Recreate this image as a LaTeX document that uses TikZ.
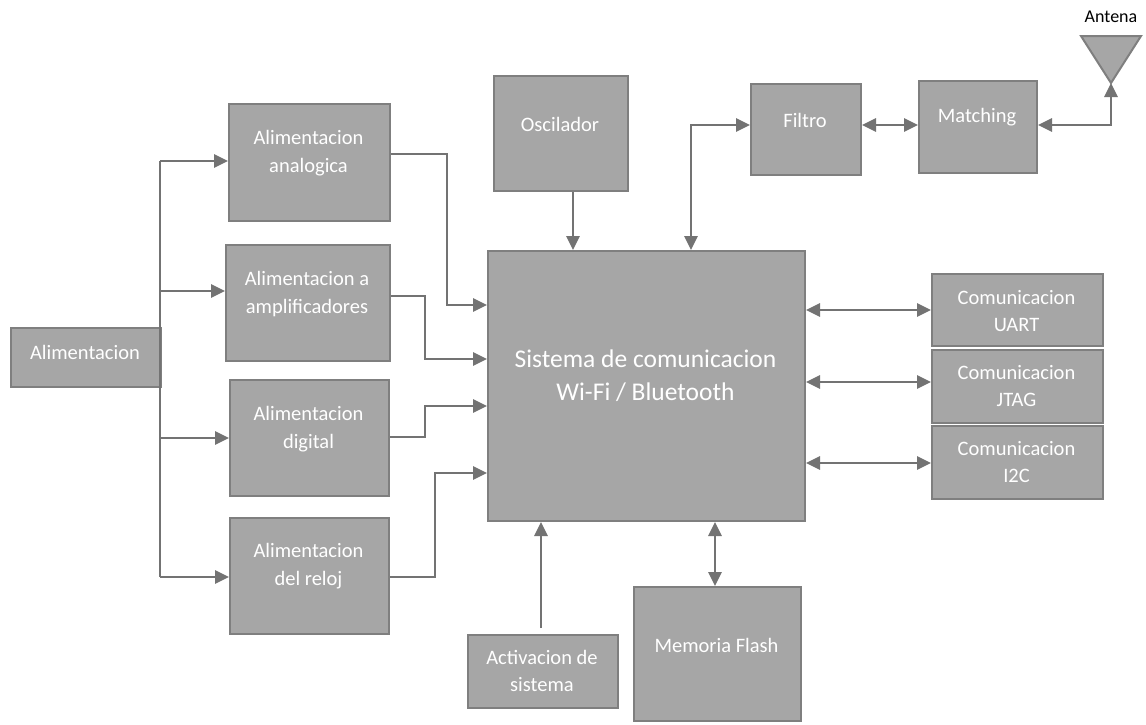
\documentclass[tikz,border=0pt]{standalone}
\usepackage{fontspec}
\setmainfont{Carlito}
\usetikzlibrary{arrows.meta}
\definecolor{boxfill}{HTML}{A6A6A6}
\definecolor{boxline}{HTML}{7F7F7F}
\definecolor{wire}{HTML}{737373}
\begin{document}
\begin{tikzpicture}[x=1pt,y=-1pt,
  blk/.style={draw=boxline,line width=2pt,fill=boxfill,inner sep=0pt,anchor=north west},
  lbl/.style={text=white,align=center,font=\fontsize{20.5}{27.5}\selectfont,inner sep=0pt},
  bigl/.style={text=white,align=center,font=\fontsize{25.5}{33}\selectfont,inner sep=0pt},
  conn/.style={draw=wire,line width=2.8pt,-{Triangle[length=14pt,width=13pt]}},
  bconn/.style={draw=wire,line width=2.8pt,{Triangle[length=14pt,width=13pt]}-{Triangle[length=14pt,width=13pt]}},
  wire/.style={draw=wire,line width=2.8pt}]
\useasboundingbox (0,0) rectangle (1146,724);

% blocks
\node[blk,minimum width=150pt,minimum height=59pt] (al) at (10,327) {};
\node[blk,minimum width=161pt,minimum height=117pt] (an) at (228,103) {};
\node[blk,minimum width=164pt,minimum height=116pt] (am) at (225,244) {};
\node[blk,minimum width=159pt,minimum height=116pt] (di) at (229,379) {};
\node[blk,minimum width=159pt,minimum height=116pt] (re) at (229,517) {};
\node[blk,minimum width=134pt,minimum height=115pt] (os) at (493,75) {};
\node[blk,minimum width=317pt,minimum height=270pt] (sys) at (487,250) {};
\node[blk,minimum width=110pt,minimum height=91pt] (fi) at (750,83) {};
\node[blk,minimum width=118pt,minimum height=92pt] (ma) at (918,80) {};
\node[blk,minimum width=171pt,minimum height=72pt] (ua) at (931,273) {};
\node[blk,minimum width=171pt,minimum height=73pt] (jt) at (931,349) {};
\node[blk,minimum width=171pt,minimum height=73pt] (ic) at (931,425) {};
\node[blk,minimum width=150pt,minimum height=73pt] (ac) at (467,634) {};
\node[blk,minimum width=167pt,minimum height=134pt] (fl) at (633,586) {};

% antenna
\coordinate (ant) at (1111,83);
\filldraw[draw=boxline,fill=boxfill,line width=2pt] (1081,36) -- (1141,36) -- (ant) -- cycle;
\node[font=\fontsize{18}{20}\selectfont,inner sep=0pt] (antl) at (1111,17) {Antena};

% labels
\node[lbl] (al-t) at (85,352) {Alimentacion};
\node[lbl] (an-t) at (308.5,153) {Alimentacion\\analogica};
\node[lbl] (am-t) at (307,294) {Alimentacion a\\amplificadores};
\node[lbl] (di-t) at (308.5,429) {Alimentacion\\digital};
\node[lbl] (re-t) at (308.5,566) {Alimentacion\\del reloj};
\node[lbl] (os-t) at (560,124) {Oscilador};
\node[bigl] (sys-t) at (645.5,376) {Sistema de comunicacion\\Wi-Fi / Bluetooth};
\node[lbl] (fi-t) at (805,120) {Filtro};
\node[lbl] (ma-t) at (977,117) {Matching};
\node[lbl] (ua-t) at (1016.5,311) {Comunicacion\\UART};
\node[lbl] (jt-t) at (1016.5,386) {Comunicacion\\JTAG};
\node[lbl] (ic-t) at (1016.5,462) {Comunicacion\\I2C};
\node[lbl] (ac-t) at (542,671) {Activacion de\\sistema};
\node[lbl] (fl-t) at (716.5,645) {Memoria Flash};

% power distribution bus
\coordinate (b1) at (160,161);
\coordinate (b2) at (160,291);
\coordinate (b3) at (160,438);
\coordinate (b4) at (160,577);
\draw[wire] (b1) -- (b4);
\draw[conn] (b1) -- (an.west |- b1);
\draw[conn] (b2) -- (am.west |- b2);
\draw[conn] (b3) -- (di.west |- b3);
\draw[conn] (b4) -- (re.west |- b4);

% supplies into the system block
\draw[conn] (an.east |- 0,154) -| (447,305) -- (sys.west |- 0,305);
\draw[conn] (am.east |- 0,296) -| (425,359) -- (sys.west |- 0,359);
\draw[conn] (di.east |- 0,437) -| (425,406) -- (sys.west |- 0,406);
\draw[conn] (re.east |- 0,577) -| (435,473) -- (sys.west |- 0,473);

% oscillator, activation, flash
\draw[conn] (os.south -| 573,0) -- (sys.north -| 573,0);
\draw[conn] (ac.north -| 541,0) ++(0,-6) -- (sys.south -| 541,0);
\draw[bconn] (sys.south -| 715,0) -- (fl.north -| 715,0);

% RF chain
\draw[bconn] (sys.north -| 691,0) |- (fi.west |- 0,125);
\draw[bconn] (fi.east |- 0,125) -- (ma.west |- 0,125);
\draw[bconn] (ant) |- (ma.east |- 0,125);

% serial interfaces
\draw[bconn] (sys.east |- 0,310) -- (ua.west |- 0,310);
\draw[bconn] (sys.east |- 0,382) -- (jt.west |- 0,382);
\draw[bconn] (sys.east |- 0,463) -- (ic.west |- 0,463);
\end{tikzpicture}
\end{document}
